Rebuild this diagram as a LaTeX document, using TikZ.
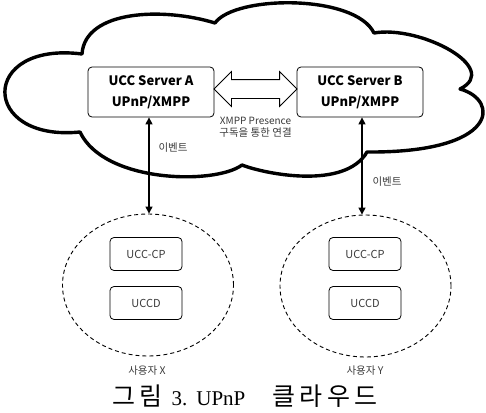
\documentclass[tikz,border=0pt]{standalone}
\usepackage{fontspec}
\setmainfont{Liberation Serif}
\newfontfamily\kr{Noto Sans CJK KR}
\usetikzlibrary{arrows.meta,shapes.geometric,shapes.arrows}
\definecolor{labelgray}{HTML}{3A3A3A}
% spaced Hangul for the caption
\newcommand\capgap{\kern4.4pt }
\newcommand\capkr{\kr\fontsize{25}{28}\selectfont}

\begin{document}
\begin{tikzpicture}[x=1pt, y=-1pt,
  cloud/.style={line width=3.4pt, line join=round},
  srv/.style={draw, rounded corners=4pt, line width=0.8pt, minimum width=126pt,
    minimum height=50pt, inner sep=0pt, align=center,
    font=\kr\bfseries\fontsize{13}{21}\selectfont},
  dev/.style={draw, rounded corners=4pt, line width=0.8pt, minimum width=72pt,
    minimum height=33pt, inner sep=0pt, text=labelgray,
    font=\kr\fontsize{11}{13}\selectfont},
  user/.style={ellipse, draw, dash pattern=on 4pt off 3pt, line width=0.9pt,
    minimum width=171pt, minimum height=142pt, inner sep=0pt},
  lbl/.style={inner sep=0pt, text=labelgray, font=\kr\fontsize{10.5}{12}\selectfont},
  evt/.style={line width=1.4pt,
    {Triangle[length=7pt,width=7pt]}-{Triangle[length=7pt,width=7pt]}},
  link/.style={double arrow, draw, line width=0.8pt, minimum height=83pt,
    inner sep=9pt, double arrow head extend=8pt}
]
\useasboundingbox (0,0) rectangle (486,412);

% cloud outline
\draw[cloud] (80,132) .. controls (-20,142) and (-21,41) .. (82,54)
  .. controls (85,10) and (163,7) .. (215,23)
  .. controls (235,-5) and (355,-6) .. (374,33)
  .. controls (420,25) and (502,68) .. (460,89)
  .. controls (500,100) and (499,153) .. (367,152)
  .. controls (345,190) and (265,174) .. (242,165)
  .. controls (215,185) and (104,183) .. (80,132) -- cycle;

% servers
\node[srv] (srvA) at (151,92) {UCC Server A\\UPnP/XMPP};
\node[srv] (srvB) at (360,92) {UCC Server B\\UPnP/XMPP};

% XMPP link between servers
\node[link] (link) at (255.5,89) {};
\node[lbl, font=\kr\fontsize{10}{12}\selectfont] (linkA) at (255.5,121) {XMPP Presence};
\node[lbl] (linkB) at (255.5,133) {구독을 통한 연결};

% user domains
\node[user] (ellX) at (148,285) {};
\node[user] (ellY) at (365.5,286) {};
\node[dev] (cpX) at (146,254) {UCC-CP};
\node[dev] (dX) at (146,303) {UCCD};
\node[dev] (cpY) at (365,254) {UCC-CP};
\node[dev] (dY) at (365,303) {UCCD};
\node[lbl] (userX) at (147,371) {사용자 X};
\node[lbl] (userY) at (365,371) {사용자 Y};

% event channels
\draw[evt] (srvA.south -| ellX.north) ++(1,0) coordinate (eA) -- (eA |- ellX.north);
\draw[evt] ([xshift=2pt]srvB.south) coordinate (eB) -- (eB |- ellY.north);
\node[lbl] (evA) at (173,148) {이벤트};
\node[lbl] (evB) at (387,182) {이벤트};

% caption
\node[inner sep=0pt, anchor=west, font=\fontsize{21}{24}\selectfont] (cap) at (112,396)
  {{\capkr 그\capgap 림}\hspace{9pt}3.\hspace{9pt}UPnP\hspace{27pt}{\capkr 클\capgap 라\capgap 우\capgap 드}};
\end{tikzpicture}
\end{document}
